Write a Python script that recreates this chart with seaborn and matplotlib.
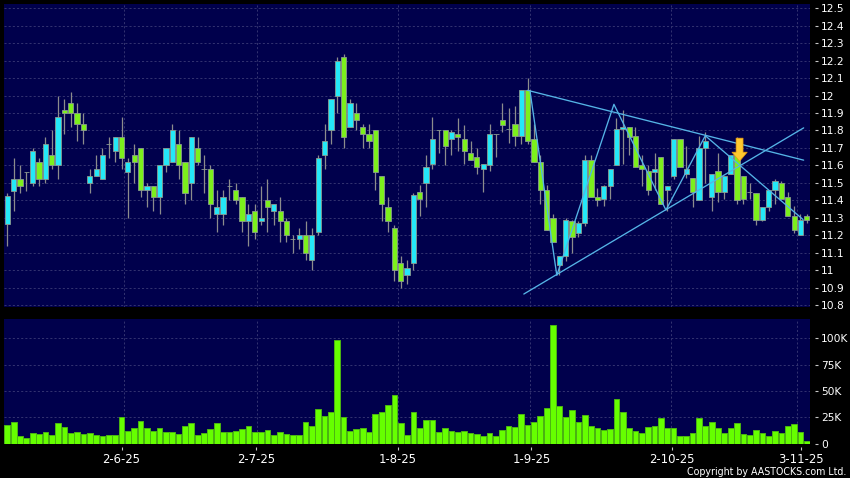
import matplotlib
matplotlib.use('Agg')
import matplotlib.pyplot as plt
import seaborn as sns
import pandas as pd

opens = [11.264,11.456,11.52,11.56,11.50,11.62,11.52,11.66,11.60,11.92,11.96,11.90,11.84,11.50,11.54,11.52,11.72,11.68,11.76,11.56,11.66,11.70,11.46,11.48,11.42,11.60,11.62,11.72,11.62,11.50,11.70,11.58,11.58,
         11.32,11.32,11.48,11.46,11.42,11.28,11.34,11.28,11.40,11.34,11.34,11.28,11.18,11.18,11.20,11.06,11.22,11.66,11.80,12.00,12.22,11.82,11.90,11.82,11.78,11.80,11.54,11.36,11.24,11.04,10.97,
         11.04,11.45,11.50,11.61,11.80,11.80,11.75,11.78,11.75,11.67,11.65,11.58,11.60,11.78,11.86,11.81,11.84,11.77,12.03,11.75,11.62,11.46,11.30,11.03,11.08,11.28,11.21,11.27,11.63,11.42,11.41,11.48,
         11.60,11.81,11.82,11.77,11.60,11.57,11.56,11.65,11.46,11.54,11.75,11.55,11.53,11.40,11.70,11.42,11.57,11.45,11.55,11.66,11.54,11.45,11.44,11.29,11.36,11.46,11.50,11.42,11.31,11.20,11.31]
closes = [11.426,11.52,11.48,11.56,11.68,11.52,11.72,11.60,11.88,11.90,11.90,11.84,11.80,11.54,11.58,11.66,11.72,11.76,11.64,11.62,11.62,11.46,11.48,11.42,11.60,11.70,11.80,11.60,11.44,11.76,11.62,11.58,11.38,
          11.36,11.42,11.48,11.40,11.28,11.32,11.22,11.30,11.36,11.38,11.28,11.20,11.18,11.20,11.10,11.20,11.64,11.74,11.98,12.20,11.76,11.96,11.86,11.78,11.74,11.56,11.38,11.28,11.00,10.94,11.01,
          11.43,11.41,11.59,11.75,11.80,11.71,11.79,11.76,11.68,11.63,11.59,11.61,11.78,11.78,11.83,11.81,11.77,12.03,11.74,11.62,11.46,11.23,11.16,11.08,11.29,11.19,11.27,11.63,11.42,11.40,11.48,11.58,
          11.81,11.82,11.76,11.59,11.58,11.46,11.58,11.38,11.48,11.75,11.59,11.58,11.45,11.70,11.74,11.55,11.45,11.54,11.66,11.40,11.41,11.45,11.29,11.36,11.46,11.51,11.41,11.31,11.23,11.29,11.29]
highs = [11.44,11.644,11.60,11.56,11.70,11.64,11.76,11.80,12.00,11.98,12.02,11.96,11.90,11.58,11.66,11.70,11.76,11.76,11.88,11.64,11.72,11.70,11.50,11.48,11.60,11.70,11.84,11.80,11.62,11.76,11.76,11.66,11.60,
         11.46,11.46,11.52,11.50,11.42,11.38,11.38,11.48,11.52,11.38,11.42,11.30,11.20,11.24,11.28,11.24,11.66,11.84,11.98,12.22,12.24,11.98,11.96,11.84,11.84,11.80,11.54,11.42,11.26,11.08,11.06,
         11.44,11.49,11.66,11.88,11.80,11.80,11.80,11.87,11.83,11.74,11.70,11.61,11.84,11.78,11.96,11.93,11.94,12.03,12.10,11.84,11.66,11.49,11.32,11.08,11.30,11.29,11.28,11.66,11.66,11.47,11.49,11.58,
         11.87,11.92,11.82,11.82,11.66,11.60,11.67,11.65,11.48,11.75,11.75,11.71,11.53,11.77,11.79,11.55,11.67,11.54,11.66,11.76,11.54,11.50,11.44,11.36,11.46,11.52,11.51,11.45,11.37,11.32,11.32]
lows = [11.14,11.34,11.44,11.456,11.48,11.48,11.50,11.58,11.52,11.78,11.82,11.74,11.72,11.44,11.54,11.52,11.64,11.62,11.58,11.30,11.50,11.42,11.36,11.34,11.32,11.56,11.62,11.52,11.38,11.40,11.60,11.44,11.30,
        11.22,11.26,11.40,11.38,11.22,11.14,11.18,11.26,11.22,11.26,11.16,11.16,11.10,11.12,11.06,11.00,11.20,11.58,11.72,11.90,11.70,11.82,11.80,11.70,11.70,11.46,11.28,11.22,10.94,10.90,10.92,
        11.00,11.31,11.36,11.58,11.67,11.60,11.66,11.68,11.61,11.63,11.55,11.45,11.57,11.65,11.79,11.73,11.71,11.72,11.72,11.62,11.38,11.23,11.16,10.97,11.05,11.10,11.19,11.25,11.42,11.37,11.37,11.41,
        11.60,11.61,11.66,11.59,11.48,11.43,11.46,11.38,11.34,11.52,11.59,11.53,11.36,11.40,11.50,11.34,11.39,11.41,11.55,11.38,11.38,11.41,11.26,11.28,11.34,11.38,11.41,11.31,11.21,11.20,11.27]
volumes = [17.6,20.5,7.4,4.8,10.3,9,11.2,8,19.5,16,9.6,10.6,9,9.6,7.7,7,8,8,25,11.5,15,21.5,14.7,11.8,14.7,10.9,11.2,9,16.7,19.2,8,10.2,13.8,19.5,10.9,10.9,12.2,14,16.7,11.2,10.6,12.5,8.3,10.6,
           9,8,8.3,20.2,17,33.3,26,30,98.5,25.3,11.8,14,14.7,10.9,27.8,30,36.5,46.4,19.5,8,29.8,14.7,22.4,22.4,11.2,14.4,11.5,10.9,11.5,10.2,9,7,10,7.4,13,16.3,15.7,27.8,17.6,20.8,26.2,33.6,113,
           35.5,25.3,32,20.2,27,16.3,14.4,13,13.8,42,30.4,14.4,12.2,10.2,15.4,16.6,24,14.7,14.7,7.4,7.4,10,24,17,20.5,15,10,14.7,19.8,9.3,8.3,13,10,6.7,11.5,9.6,16.3,19,10.6,2.6]

price_ticks = [10.8,10.9,11,11.1,11.2,11.3,11.4,11.5,11.6,11.7,11.8,11.9,12,12.1,12.2,12.3,12.4,12.5]
volume_ticks = [0,25,50,75,100]
volume_labels = ['0','25K','50K','75K','100K']
date_ticks = [18,39.25,61.5,82.6,104.8,125.1]
date_labels = ['2-6-25','2-7-25','1-8-25','1-9-25','2-10-25','3-11-25']
grid_days = [18.44,39.4,61.5,82.4,104.6,124.5]

# trend lines and the zigzag, as (day index, price)
upper_x = [82.0,125.5]
upper_y = [12.03,11.63]
lower_x = [81.4,125.5]
lower_y = [10.863,11.815]
zigzag_x = [82.4,86.6,95.6,103.8,110,125.4]
zigzag_y = [12.02,10.97,11.95,11.344,11.77,11.29]
arrow_day = 115.4
arrow_tip = 11.624
arrow_tail = 11.756

BG = '#00004c'
GRID = '#31316f'
W, H = 850, 478

sns.set_style('dark')
plt.rcParams['font.family'] = 'DejaVu Sans'

fig = plt.figure(figsize=(8.5, 4.78), dpi=100, facecolor='black')
ax = fig.add_axes([4/W, 1-307.3/H, 806/W, 303.8/H])
vax = fig.add_axes([4/W, 1-443.5/H, 806/W, 124.5/H])


def style_panel(a):
    a.set_facecolor(BG)
    for s in a.spines.values():
        s.set_visible(False)
    a.set_xlim(-0.52, 126.5)
    a.set_xticks(grid_days)
    a.tick_params(length=0, labelbottom=False, labelleft=False)
    a.grid(True, color=GRID, linestyle=(0, (2, 2)), linewidth=0.75)
    a.set_axisbelow(True)
    a.set_xlabel('')
    a.set_ylabel('')


# candles
df = pd.DataFrame({'day': range(len(opens)), 'open': opens, 'close': closes, 'high': highs, 'low': lows, 'vol': volumes})
ax.vlines(df['day'], df['low'], df['high'], color='#8c8c8c', linewidth=0.9, zorder=2)
bar_color = ['#24e8f8' if c > o else '#7cf01c' for o, c in zip(opens, closes)]
ax.bar(df['day'], (df['close'] - df['open']).abs(), bottom=df[['open', 'close']].min(axis=1), width=0.82,
       color=bar_color, edgecolor='#8a9a90', linewidth=0.6, zorder=3)

# pattern lines
for xs, ys in [(upper_x, upper_y), (lower_x, lower_y), (zigzag_x, zigzag_y)]:
    sns.lineplot(x=xs, y=ys, sort=False, estimator=None, color='#55b4e6', linewidth=0.95, ax=ax, zorder=4)
ax.annotate('', xy=(arrow_day, arrow_tip), xytext=(arrow_day, arrow_tail),
            arrowprops=dict(arrowstyle='simple,head_length=6.5,head_width=11,tail_width=5', mutation_scale=1,
                            shrinkA=0, shrinkB=0, facecolor='#ffc92e', edgecolor='#e89a10', linewidth=0.5), zorder=5)

# volume
sns.barplot(data=df, x='day', y='vol', native_scale=True, color='#66ff00', width=0.9, saturation=1,
            edgecolor='#4bb512', linewidth=0.7, ax=vax, zorder=3)

style_panel(ax)
style_panel(vax)
ax.set_ylim(10.787, 12.5275)
ax.set_yticks(price_ticks)
vax.set_ylim(0, 118.5)
vax.set_yticks(volume_ticks)

# tick marks stand a little off the panels
for a, ticks, labels in [(ax, price_ticks, [f'{t:g}' for t in price_ticks]), (vax, volume_ticks, volume_labels)]:
    sec = a.secondary_yaxis(1 + 4.5/806)
    sec.set_yticks(ticks, labels=labels)
    sec.spines['right'].set_visible(False)
    sec.tick_params(length=2.4, width=0.8, color='#c8c8c8', labelcolor='white', labelsize=7.7, pad=2.2)
sec = vax.secondary_xaxis(-3.5/124.5)
sec.set_xticks(date_ticks, labels=date_labels)
sec.spines['bottom'].set_visible(False)
sec.tick_params(length=2.2, width=0.8, color='#c8c8c8', labelcolor='white', labelsize=8.4, pad=2)

fig.text(846/W, 1-472/H, 'Copyright by AASTOCKS.com Ltd.', color='white', fontsize=6.85, ha='right', va='center')

fig.savefig('out.png', dpi=100, facecolor='black')
